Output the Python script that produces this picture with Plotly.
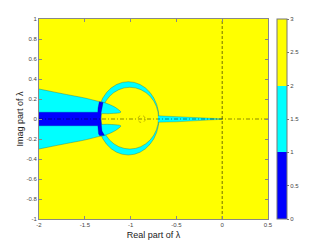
import plotly.graph_objects as go

# ---- data ----
x_ticks = [-2, -1.5, -1, -0.5, 0, 0.5]
x_tick_labels = ["-2", "-1.5", "-1", "-0.5", "0", "0.5"]
y_ticks = [-1, -0.8, -0.6, -0.4, -0.2, 0, 0.2, 0.4, 0.6, 0.8, 1]
y_tick_labels = ["-1", "-0.8", "-0.6", "-0.4", "-0.2", "0", "0.2", "0.4", "0.6", "0.8", "1"]
cbar_ticks = [0, 0.5, 1, 1.5, 2, 2.5, 3]
cbar_labels = ["0", "0.5", "1", "1.5", "2", "2.5", "3"]

# level colours (0-1, 1-2, 2-3)
level_colors = ["#0000ff", "#00ffff", "#ffff00"]

# annulus (outer / inner ellipse bounding boxes: x0, x1, y0, y1)
outer_ring = [-1.36, -0.69, -0.36, 0.373]
inner_ring = [-1.322, -0.695, -0.30, 0.317]
# small dashed oval near the real axis
small_oval = [-0.92, -0.84, -0.035, 0.035]

# cyan wedge with the two curved tongues (boundary vertices)
wedge_x = [-2, -1.7, -1.5, -1.35, -1.29, -1.23, -1.17, -1.13, -1.105, -1.12, -1.17, -1.25, -1.325,
           -1.325, -1.25, -1.17, -1.12, -1.105, -1.13, -1.17, -1.23, -1.29, -1.35, -1.5, -1.7, -2]
wedge_y = [0.30, 0.245, 0.21, 0.176, 0.165, 0.145, 0.118, 0.092, 0.07, 0.062, 0.057, 0.053, 0.05,
           -0.05, -0.053, -0.057, -0.062, -0.07, -0.092, -0.118, -0.145, -0.165, -0.176, -0.21, -0.245, -0.30]

# blue region (band on the real axis + overlap with annulus)
blue_x = [-2, -1.358, -1.356, -1.35, -1.342, -1.30, -1.312, -1.322, -1.325,
          -1.322, -1.312, -1.285, -1.336, -1.35, -1.356, -1.358, -2]
blue_y = [0.068, 0.068, 0.11, 0.15, 0.172, 0.166, 0.12, 0.06, 0.0,
          -0.06, -0.12, -0.163, -0.168, -0.15, -0.11, -0.068, -0.068]

# thin cyan spike from the ring to the origin
spike_x = [-0.70, -0.5, -0.3, -0.15, 0.0, 0.0, -0.15, -0.3, -0.5, -0.70]
spike_y = [0.032, 0.025, 0.017, 0.01, 0.002, -0.003, -0.012, -0.02, -0.028, -0.032]

x_range = [-2, 0.5]
y_range = [-1, 1]

edge = "rgba(40,60,60,0.6)"

fig = go.Figure()

fig.add_trace(go.Scatter(x=wedge_x, y=wedge_y, fill="toself", fillcolor=level_colors[1],
                         mode="lines", line=dict(color=edge, width=0.5, shape="spline", smoothing=0.6),
                         hoverinfo="skip", showlegend=False))
fig.add_trace(go.Scatter(x=spike_x, y=spike_y, fill="toself", fillcolor=level_colors[1],
                         mode="lines", line=dict(color=edge, width=0.4), hoverinfo="skip",
                         showlegend=False))
fig.add_trace(go.Scatter(x=blue_x, y=blue_y, fill="toself", fillcolor=level_colors[0],
                         mode="lines", line=dict(color="rgba(0,0,120,0.6)", width=0.4),
                         hoverinfo="skip", showlegend=False))

# real axis and imaginary axis dash-dot lines
fig.add_trace(go.Scatter(x=x_range, y=[0, 0], mode="lines",
                         line=dict(color="rgba(0,0,0,0.65)", width=0.7, dash="4px,2px,1px,2px"),
                         hoverinfo="skip", showlegend=False))
fig.add_trace(go.Scatter(x=[0, 0], y=y_range, mode="lines",
                         line=dict(color="rgba(0,0,0,0.8)", width=0.7, dash="3px,2px"),
                         hoverinfo="skip", showlegend=False))

# colour bar carrier
cscale = [[0, level_colors[0]], [1/3, level_colors[0]],
          [1/3, level_colors[1]], [2/3, level_colors[1]],
          [2/3, level_colors[2]], [1, level_colors[2]]]
fig.add_trace(go.Scatter(x=[None, None], y=[None, None], mode="markers",
                         marker=dict(color=[0, 3], cmin=0, cmax=3, colorscale=cscale,
                                     showscale=True,
                                     colorbar=dict(x=1.039, xanchor="left", y=0.5, yanchor="middle",
                                                   len=1, lenmode="fraction", ypad=0, xpad=0,
                                                   thickness=10, thicknessmode="pixels",
                                                   outlinewidth=1, outlinecolor="#777",
                                                   tickvals=cbar_ticks, ticktext=cbar_labels,
                                                   ticks="outside", ticklen=2, tickcolor="#777",
                                                   tickfont=dict(size=6, color="#444"))),
                         hoverinfo="skip", showlegend=False))

shapes = [
    dict(type="circle", xref="x", yref="y", x0=outer_ring[0], x1=outer_ring[1],
         y0=outer_ring[2], y1=outer_ring[3], fillcolor=level_colors[1],
         line=dict(color=edge, width=0.5), layer="below"),
    dict(type="circle", xref="x", yref="y", x0=inner_ring[0], x1=inner_ring[1],
         y0=inner_ring[2], y1=inner_ring[3], fillcolor=level_colors[2],
         line=dict(color=edge, width=0.5), layer="below"),
    dict(type="circle", xref="x", yref="y", x0=small_oval[0], x1=small_oval[1],
         y0=small_oval[2], y1=small_oval[3],
         line=dict(color="rgba(120,100,0,0.8)", width=0.6, dash="dot"), layer="above"),
]

axis_common = dict(showgrid=False, zeroline=False, showline=True, linecolor="#888",
                   linewidth=1, mirror="ticks", ticks="inside", ticklen=3,
                   tickcolor="#888", tickfont=dict(size=6, color="#444"), automargin=False)

# the page body adds an 8px offset, so the figure is sized to fit the remaining window
fig.update_layout(
    width=319, height=238,
    margin=dict(l=31, r=59, t=11, b=27, autoexpand=False),
    paper_bgcolor="white", plot_bgcolor=level_colors[2],
    font=dict(family="Liberation Sans, Arial, sans-serif"),
    shapes=shapes,
    xaxis=dict(range=x_range, tickvals=x_ticks, ticktext=x_tick_labels,
               title=dict(text="Real part of λ", font=dict(size=9, color="#222"), standoff=4),
               **axis_common),
    yaxis=dict(range=y_range, tickvals=y_ticks, ticktext=y_tick_labels,
               title=dict(text="Imag part of λ", font=dict(size=9, color="#222"), standoff=1),
               **axis_common),
)

fig.write_html("out.html")
